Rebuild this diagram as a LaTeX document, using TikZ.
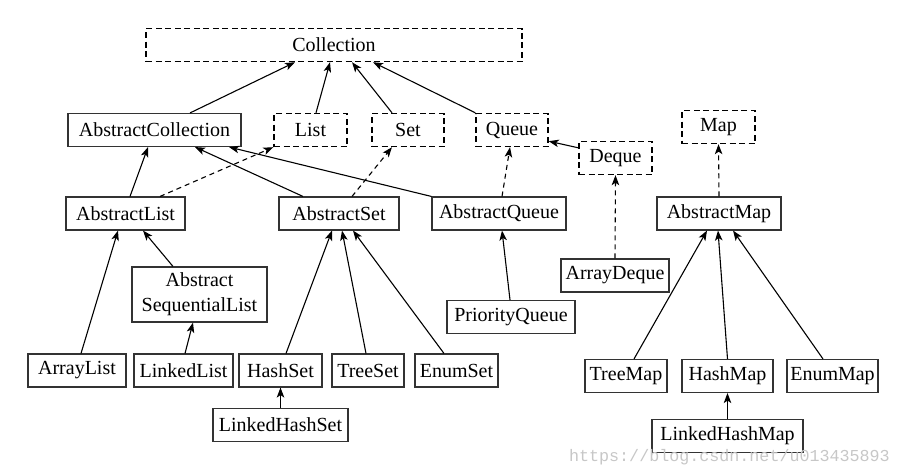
\documentclass[tikz,border=0pt]{standalone}
\usepackage{fontspec}
\setmainfont{Liberation Serif}
\newfontfamily\wmfont{Liberation Mono}
\usetikzlibrary{arrows.meta}
\tikzset{
  cls/.style={draw=black!80, line width=1.1pt, inner sep=0pt, minimum height=33pt, font=\fontsize{20}{25}\selectfont, fill=white},
  ifc/.style={draw=black, line width=1.4pt, dash pattern=on 6pt off 3.5pt, inner sep=0pt, minimum height=33pt, font=\fontsize{20}{25}\selectfont, fill=white},
  ext/.style={line width=1.1pt, -{Stealth[length=10pt,width=7.5pt,inset=2.5pt]}},
  impl/.style={ext, dash pattern=on 5pt off 4pt},
}
\begin{document}
\begin{tikzpicture}[x=1pt,y=-1pt]
\useasboundingbox (0,0) rectangle (901,472);
% interfaces
\node[ifc, minimum width=376pt] (coll) at (334,45) {Collection};
\node[ifc, minimum width=73pt] (list) at (310.5,130) {List};
\node[ifc, minimum width=72pt] (set) at (408,130) {Set};
\node[ifc, minimum width=72pt] (queue) at (512,130) {Queue};
\node[ifc, minimum width=73pt] (deque) at (615.5,158) {Deque};
\node[ifc, minimum width=73pt] (map) at (718.5,127) {Map};
% classes
\node[cls, minimum width=173pt] (abscoll) at (154.5,130) {AbstractCollection};
\node[cls, minimum width=119pt] (abslist) at (125.5,213.5) {AbstractList};
\node[cls, minimum width=120pt] (absset) at (339,213.5) {AbstractSet};
\node[cls, minimum width=134pt] (absqueue) at (499,213.5) {AbstractQueue};
\node[cls, minimum width=124pt] (absmap) at (719,213.5) {AbstractMap};
\node[cls, minimum width=108pt] (arraydeque) at (615,275.5) {ArrayDeque};
\node[cls, minimum width=128pt] (pq) at (511,317) {PriorityQueue};
\node[cls, minimum width=135pt, minimum height=55pt, align=center] (asl) at (199.5,294.5) {Abstract\\SequentialList};
\node[cls, minimum width=98pt] (arraylist) at (77,370.5) {ArrayList};
\node[cls, minimum width=99pt] (linkedlist) at (183.5,370.5) {LinkedList};
\node[cls, minimum width=83pt] (hashset) at (280.5,370.5) {HashSet};
\node[cls, minimum width=72pt] (treeset) at (368,370.5) {TreeSet};
\node[cls, minimum width=83pt] (enumset) at (456.5,370.5) {EnumSet};
\node[cls, minimum width=135pt] (lhs) at (280.5,425) {LinkedHashSet};
\node[cls, minimum width=82pt] (treemap) at (626,376) {TreeMap};
\node[cls, minimum width=91pt] (hashmap) at (727.5,376) {HashMap};
\node[cls, minimum width=91pt] (enummap) at (832.5,376) {EnumMap};
\node[cls, minimum width=151pt] (lhm) at (727.5,436) {LinkedHashMap};
% watermark
\node[text=black!22, font=\wmfont\fontsize{16.7}{20}\selectfont, anchor=east, inner sep=0pt] (wm) at (890,457) {https://blog.csdn.net/u013435893};
% connectors
\draw[ext] ([xshift=35.5pt]abscoll.north) -- ([xshift=-39pt]coll.south);
\draw[ext] ([xshift=5.5pt]list.north) -- ([xshift=-4pt]coll.south);
\draw[ext] ([xshift=-16pt]set.north) -- ([xshift=18pt]coll.south);
\draw[ext] (queue.north west) -- ([xshift=39pt]coll.south);
\draw[ext] ([yshift=-7pt]deque.north west) -- ([yshift=6pt]queue.south east);
\draw[ext] ([xshift=4.5pt]abslist.north) -- ([xshift=-6.5pt]abscoll.south);
\draw[impl] ([xshift=34.5pt]abslist.north) -- (list.south west);
\draw[ext] ([xshift=-36pt]absset.north) -- ([xshift=40.5pt]abscoll.south);
\draw[ext] (absqueue.north west) -- ([xshift=74.5pt]abscoll.south);
\draw[impl] ([xshift=13pt]absset.north) -- ([xshift=-16pt]set.south);
\draw[impl] ([xshift=3pt]absqueue.north) -- ([xshift=-2pt]queue.south);
\draw[impl] (arraydeque.north) -- (deque.south);
\draw[impl] (absmap.north) -- (map.south);
\draw[ext] ([xshift=4pt]arraylist.north) -- ([xshift=-7.5pt]abslist.south);
\draw[ext] ([xshift=-26.5pt]asl.north) -- ([xshift=17.5pt]abslist.south);
\draw[ext] ([xshift=1.5pt]linkedlist.north) -- ([xshift=-6.5pt]asl.south);
\draw[ext] ([xshift=5.5pt]hashset.north) -- ([xshift=-7pt]absset.south);
\draw[ext] ([xshift=-2pt]treeset.north) -- ([xshift=3pt]absset.south);
\draw[ext] ([xshift=-12.5pt]enumset.north) -- ([xshift=14pt]absset.south);
\draw[ext] (lhs.north) -- (hashset.south);
\draw[ext] ([xshift=-1pt]pq.north) -- ([xshift=3pt]absqueue.south);
\draw[ext] ([xshift=8pt]treemap.north) -- ([xshift=-12pt]absmap.south);
\draw[ext] (hashmap.north) -- ([xshift=-1pt]absmap.south);
\draw[ext] ([xshift=-9.5pt]enummap.north) -- ([xshift=14pt]absmap.south);
\draw[ext] (lhm.north) -- (hashmap.south);
\end{tikzpicture}
\end{document}
